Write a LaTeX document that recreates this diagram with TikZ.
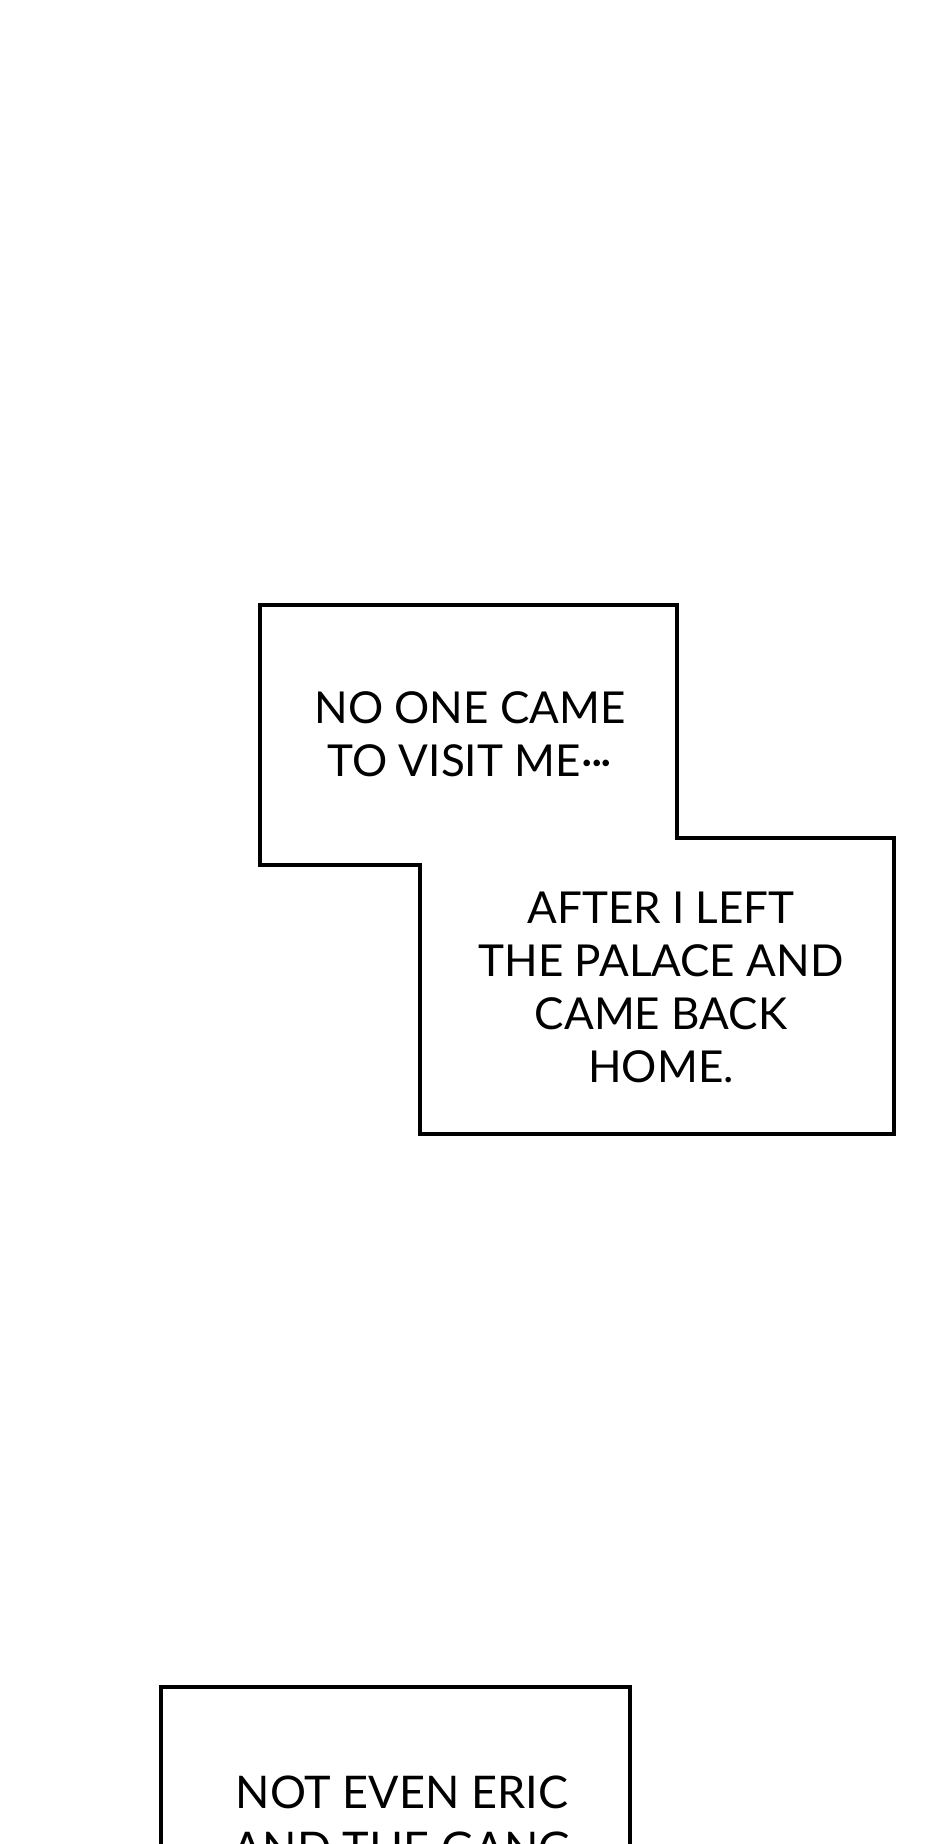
\documentclass[tikz,border=0pt]{standalone}
\usepackage{fontspec}
\setmainfont{Lato}
\tikzset{
  panel/.style={draw=black, line width=4.8pt, line join=miter},
  caption/.style={align=center, inner sep=0pt, font=\fontsize{44}{53}\selectfont, anchor=north}
}
\begin{document}
\begin{tikzpicture}[x=1pt,y=-1pt]
\useasboundingbox (0,0) rectangle (940,1844);
\clip (0,0) rectangle (940,1844);
\fill[white] (0,0) rectangle (940,1844);
% stepped panel
\draw[panel] (260,605) -- (677,605) -- (677,838) -- (894,838) -- (894,1134) -- (420,1134) -- (420,865) -- (260,865) -- cycle;
\node[caption] (t1) at (470,691) {NO ONE CAME\\TO VISIT ME\kern1pt·\kern-2pt·\kern-2pt·};
\node[caption] (t2) at (661,892) {AFTER I LEFT\\THE PALACE AND\\CAME BACK\\HOME.};
% bottom panel (cut off)
\draw[panel] (161,1870) -- (161,1687) -- (630,1687) -- (630,1870);
\node[caption, font=\fontsize{45}{56}\selectfont] (t3) at (402,1776) {NOT EVEN ERIC\\AND THE GANG};
\end{tikzpicture}
\end{document}
